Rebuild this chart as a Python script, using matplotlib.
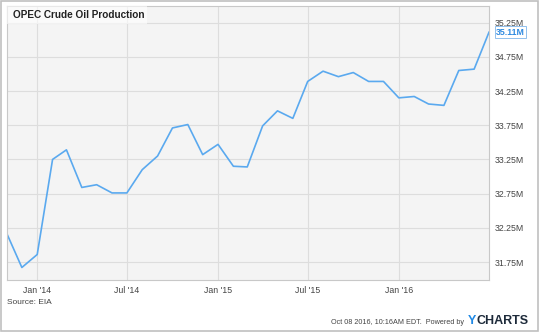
import pandas as pd
import matplotlib.pyplot as plt
from matplotlib.patches import Rectangle

# monthly OPEC crude production, millions of barrels/day
months = pd.date_range(start="2013-11-01", end="2016-07-01", freq="MS")
production = [32.16, 31.67, 31.86, 33.25, 33.39, 32.84, 32.88, 32.76, 32.76,
              33.10, 33.30, 33.71, 33.76, 33.32, 33.47, 33.15, 33.14, 33.74,
              33.96, 33.85, 34.39, 34.54, 34.46, 34.52, 34.39, 34.39, 34.15,
              34.17, 34.06, 34.04, 34.55, 34.57, 35.11]
yticks = [31.75, 32.25, 32.75, 33.25, 33.75, 34.25, 34.75, 35.25]
xticks = ["2014-01-01", "2014-07-01", "2015-01-01", "2015-07-01", "2016-01-01"]
xlabels = ["Jan '14", "Jul '14", "Jan '15", "Jul '15", "Jan '16"]

plt.rcParams['font.family'] = ['Liberation Sans', 'DejaVu Sans']

fig = plt.figure(figsize=(5.4, 3.32), dpi=100)
W, H = 540, 332
ax = fig.add_axes([7 / W, 1 - 280 / H, (489 - 7) / W, (280 - 6) / H])
ax.set_facecolor('#f4f4f4')

line_color = '#5aa9ef'
ax.plot(months, production, color=line_color, lw=1.2)

ax.set_xlim(months[0], months[-1])
ax.set_ylim(31.487, 35.493)

ax.set_yticks(yticks)
ax.set_yticklabels([f"{v:.2f}M" for v in yticks])
ax.yaxis.tick_right()
ax.set_xticks(pd.to_datetime(xticks))
ax.set_xticklabels(xlabels)
ax.tick_params(length=0, labelsize=6.3, colors='#444444')
ax.tick_params(axis='y', pad=4)
ax.tick_params(axis='x', pad=4)
ax.grid(True, color='#dddddd', lw=0.8)
ax.set_axisbelow(True)
for s in ax.spines.values():
    s.set_color('#c8c8c8')
    s.set_linewidth(0.8)

# title box
ax.add_patch(Rectangle((0, 1 - 18 / 274), 140 / 482, 18 / 274, transform=ax.transAxes,
                       facecolor='white', alpha=0.6, edgecolor='none', zorder=3))
ax.text(6 / 482, 1 - 9 / 274, "OPEC Crude Oil Production", transform=ax.transAxes,
        fontsize=7.2, fontweight='bold', color='#222222', va='center', zorder=4)

# last value label
ax.annotate(f"{production[-1]:.2f}M", xy=(1, production[-1]), xycoords=('axes fraction', 'data'),
            xytext=(5, 0), textcoords='offset points', fontsize=6.3, fontweight='bold',
            color='#2f8ae0', va='center', ha='left',
            bbox=dict(boxstyle='square,pad=0.15', facecolor='white', edgecolor='#7fb6ea', lw=0.6))

fig.text(7 / W, 1 - 302 / H, "Source: EIA", fontsize=6, color='#444444', va='center')
fig.text(464 / W, 1 - 322 / H, "Oct 08 2016, 10:16AM EDT.  Powered by", fontsize=5.2,
         color='#444444', va='center', ha='right')
ylogo = fig.text(468 / W, 1 - 321 / H, "Y", fontsize=9, fontweight='bold', color='#1e88e5', va='center')
fig.canvas.draw()
bb = ylogo.get_window_extent()
fig.text(bb.x1 / W + 0.5 / W, 1 - 321 / H, "CHARTS", fontsize=9, fontweight='bold',
         color='#1d2a3a', va='center')

# outer frame
fig.patches.append(Rectangle((0.002, 0.004), 0.994, 0.994, transform=fig.transFigure,
                             fill=False, edgecolor='#c0c0c0', lw=1.2))

fig.savefig('out.png', dpi=100)
